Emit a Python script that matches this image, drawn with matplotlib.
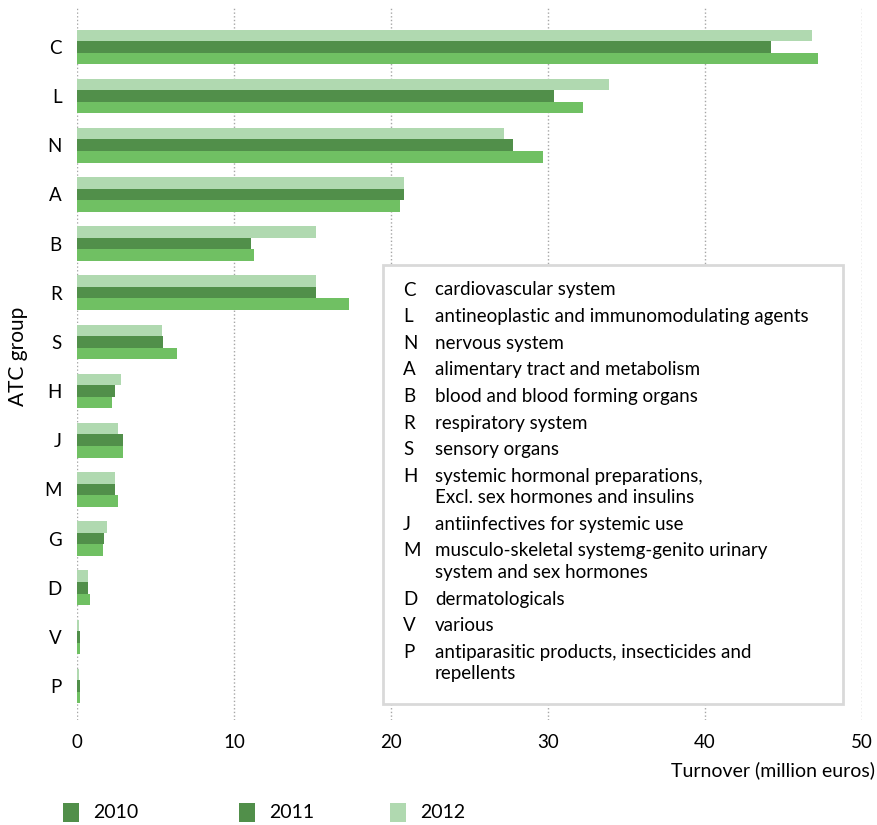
import matplotlib.pyplot as plt
import numpy as np
from matplotlib.patches import Rectangle

plt.rcParams['font.family'] = ['Lato', 'DejaVu Sans']

# ATC groups, top to bottom
groups = ["C", "L", "N", "A", "B", "R", "S", "H", "J", "M", "G", "D", "V", "P"]
v2010 = [47.2, 32.2, 29.7, 20.6, 11.3, 17.3, 6.4, 2.2, 2.9, 2.6, 1.65, 0.8, 0.2, 0.2]
v2011 = [44.2, 30.4, 27.8, 20.8, 11.1, 15.2, 5.5, 2.4, 2.9, 2.4, 1.75, 0.7, 0.2, 0.2]
v2012 = [46.8, 33.9, 27.2, 20.8, 15.2, 15.2, 5.4, 2.8, 2.6, 2.4, 1.9, 0.7, 0.1, 0.1]
years = ["2010", "2011", "2012"]

# legend box text
codes = ["C", "L", "N", "A", "B", "R", "S", "H", "J", "M", "D", "V", "P"]
descr = ["cardiovascular system",
         "antineoplastic and immunomodulating agents",
         "nervous system",
         "alimentary tract and metabolism",
         "blood and blood forming organs",
         "respiratory system",
         "sensory organs",
         "systemic hormonal preparations,\nExcl. sex hormones and insulins",
         "antiinfectives for systemic use",
         "musculo-skeletal systemg-genito urinary\nsystem and sex hormones",
         "dermatologicals",
         "various",
         "antiparasitic products, insecticides and\nrepellents"]

c2010 = "#70C063"
c2011 = "#518F4A"
c2012 = "#B0D9B0"

W, H = 877, 825
fig = plt.figure(figsize=(W/100, H/100), dpi=100)
ax = fig.add_axes([77/W, 1-720/H, (862-77)/W, (720-8)/H])

y = np.arange(len(groups))
h = 0.235
ax.barh(y - h, v2012, height=h, color=c2012, zorder=2)
ax.barh(y, v2011, height=h, color=c2011, zorder=2)
ax.barh(y + h, v2010, height=h, color=c2010, zorder=2)

ax.set_xlim(0, 50)
ax.set_ylim(13.69, -0.79)
ax.set_xticks([0, 10, 20, 30, 40, 50])
ax.set_yticks(y)
ax.set_yticklabels(groups)
ax.tick_params(axis='both', length=0, labelsize=13.5)
ax.tick_params(axis='y', pad=11)
ax.tick_params(axis='x', pad=10)
ax.grid(axis='x', linestyle=':', color='#A6A6A6', linewidth=1, zorder=0)
for s in ax.spines.values():
    s.set_visible(False)

fig.text(18/W, 1-356/H, "ATC group", rotation=90, ha='center', va='center', fontsize=15)
fig.text(875/W, 1-770/H, "Turnover (million euros)", ha='right', va='center', fontsize=14)

# description box
fig.patches.append(Rectangle((383/W, 1-704/H), (843-383)/W, (704-265)/H,
                             transform=fig.transFigure, facecolor='white',
                             edgecolor='#D9D9D9', linewidth=2, zorder=3))
ypos = 290
for code, d in zip(codes, descr):
    fig.text(403/W, 1-ypos/H, code, ha='left', va='center', fontsize=13.5, zorder=4)
    lines = d.split("\n")
    for k, ln in enumerate(lines):
        fig.text(435/W, 1-(ypos + 21.5*k)/H, ln, ha='left', va='center', fontsize=13.5, zorder=4)
    ypos += 26.6 + 21.5*(len(lines)-1)

# year legend (2010 swatch drawn dark as in the original)
swatch = [c2011, c2011, c2012]
xs = [63, 239, 390]
for yr, col, x0 in zip(years, swatch, xs):
    fig.patches.append(Rectangle((x0/W, 1-822/H), 16/W, 19/H,
                                 transform=fig.transFigure, facecolor=col,
                                 edgecolor='none', zorder=3))
    fig.text((x0+30)/W, 1-812/H, yr, ha='left', va='center', fontsize=14)

fig.savefig("out.png", dpi=100)
